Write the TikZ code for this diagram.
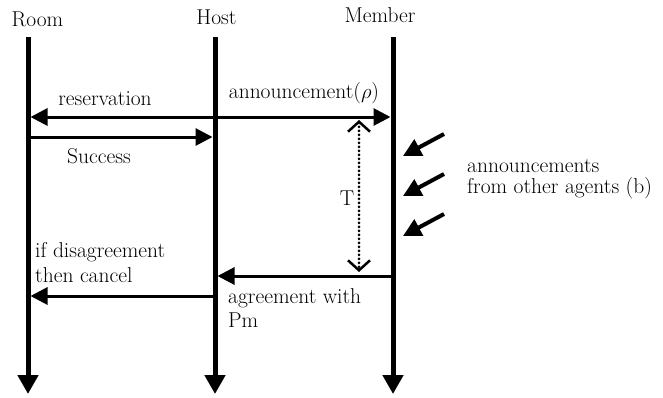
\documentclass[tikz,border=0pt]{standalone}
\usetikzlibrary{arrows.meta}
\begin{document}
\begin{tikzpicture}[x=1pt,y=-1pt,
  lifeline/.style={line width=5pt,-{Triangle[length=19pt,width=20pt]}},
  msg/.style={line width=3pt,-{Triangle[length=17pt,width=17pt]}},
  ext/.style={line width=4pt,-{Triangle[length=18pt,width=18pt]}},
  span/.style={line width=3pt,dash pattern=on 0pt off 4pt,line cap=round,
    {Straight Barb[length=10pt,width=22pt,line width=2.5pt]}-{Straight Barb[length=10pt,width=22pt,line width=2.5pt]}},
  lbl/.style={font=\fontsize{21.5}{25}\selectfont,inner sep=0pt,anchor=base},
  ]
\useasboundingbox (0,0) rectangle (663,397);

% participants
\node[lbl] (roomlbl)   at (37.5,26) {Room};
\node[lbl] (hostlbl)   at (216.5,24) {Host};
\node[lbl] (memberlbl) at (380,22) {Member};

% lifelines
\coordinate (rtop) at (28,37);   \coordinate (rbot) at (28,394);
\coordinate (htop) at (215,37);  \coordinate (hbot) at (215,394);
\coordinate (mtop) at (393,37);  \coordinate (mbot) at (393,394);
\draw[lifeline] (rtop) -- (rbot);
\draw[lifeline] (htop) -- (hbot);
\draw[lifeline] (mtop) -- (mbot);

% message end points
\coordinate (r1) at (30.5,117);  \coordinate (h1) at (215,117);  \coordinate (m1) at (390.5,117);
\coordinate (r2) at (28,137);    \coordinate (h2) at (212.5,137);
\coordinate (m3) at (393,276);   \coordinate (h3) at (217.5,276);
\coordinate (h4) at (215,296);   \coordinate (r4) at (30.5,296);
\coordinate (t1) at (359,120);   \coordinate (t2) at (359,272);

\draw[msg] (h1) -- (r1);
\draw[msg] (h1) -- (m1);
\draw[msg] (r2) -- (h2);
\draw[msg] (m3) -- (h3);
\draw[msg] (h4) -- (r4);
\draw[span] (t1) -- (t2);

% announcements arriving from other agents
\coordinate (e1s) at (444,134); \coordinate (e1t) at (403,156);
\coordinate (e2s) at (444,174); \coordinate (e2t) at (403,196);
\coordinate (e3s) at (444,214); \coordinate (e3t) at (403,236);
\draw[ext] (e1s) -- (e1t);
\draw[ext] (e2s) -- (e2t);
\draw[ext] (e3s) -- (e3t);

% labels (multi-line nodes are placed by the baseline of their last line)
\node[lbl] (resv) at (105,105) {reservation};
\node[lbl] (ann)  at (304,98.5) {announcement($\rho$)};
\node[lbl] (succ) at (99,163)  {Success};
\node[lbl] (tlbl) at (347,205) {T};
\node[lbl,anchor=base west,align=left,font=\fontsize{21.5}{24.5}\selectfont] (cancel) at (35,282) {if disagreement\\then cancel};
\node[lbl,anchor=base west,align=left,font=\fontsize{21.5}{23.5}\selectfont] (agree)  at (228,327) {agreement with\\Pm};
\node[lbl,anchor=base west,align=left,font=\fontsize{21.5}{21}\selectfont] (others) at (467,193) {announcements\\from other agents (b)};
\end{tikzpicture}
\end{document}
